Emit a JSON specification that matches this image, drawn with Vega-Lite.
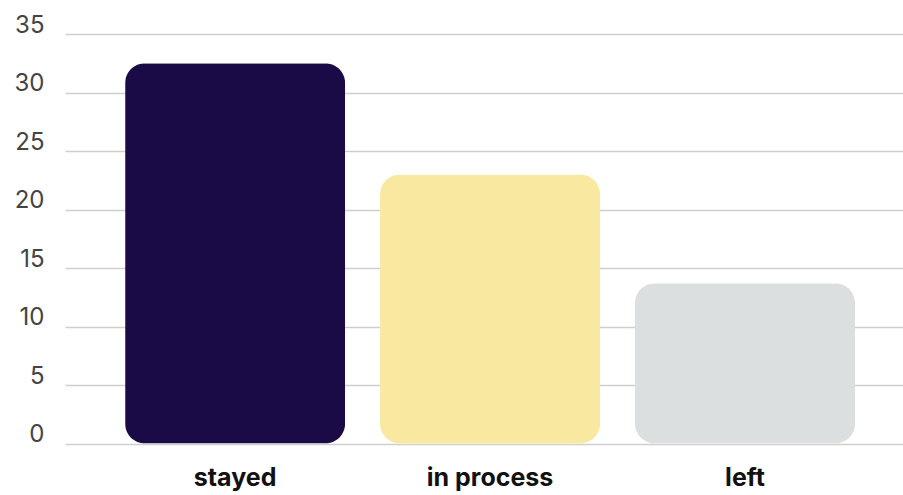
{
  "$schema": "https://vega.github.io/schema/vega-lite/v6.json",
  "width": 838,
  "height": 409.5,
  "autosize": {"type": "none"},
  "padding": {"left": 65, "top": 34, "right": 0, "bottom": 51.5},
  "background": "white",
  "config": {"view": {"stroke": null}},
  "data": {"values": [
    {"status": "stayed", "value": 32.5},
    {"status": "in process", "value": 23.0},
    {"status": "left", "value": 13.7}
  ]},
  "mark": {"type": "bar", "cornerRadius": 20},
  "encoding": {
    "x": {
      "field": "status", "type": "nominal", "sort": null,
      "scale": {"paddingInner": 0.137, "paddingOuter": 0.212, "align": 0.556},
      "axis": {"title": null, "ticks": false, "domain": false, "grid": false, "labelAngle": 0,
        "labelFont": "Inter", "labelFontWeight": "bold", "labelFontSize": 25, "labelColor": "#111111",
        "labelBaseline": "alphabetic", "labelPadding": 42}
    },
    "y": {
      "field": "value", "type": "quantitative",
      "scale": {"domain": [0, 35], "nice": false},
      "axis": {"title": null, "ticks": false, "domain": false, "values": [0, 5, 10, 15, 20, 25, 30, 35],
        "gridColor": "#cfcfcf", "gridWidth": 1.5,
        "labelFont": "Inter", "labelFontSize": 24, "labelColor": "#444444",
        "labelBaseline": "alphabetic", "labelOffset": -2, "labelPadding": 21, "labelAlign": "right"}
    },
    "color": {
      "field": "status", "type": "nominal", "legend": null,
      "scale": {"domain": ["stayed", "in process", "left"], "range": ["#1a0a45", "#f9e9a0", "#dcdfe0"]}
    }
  }
}
